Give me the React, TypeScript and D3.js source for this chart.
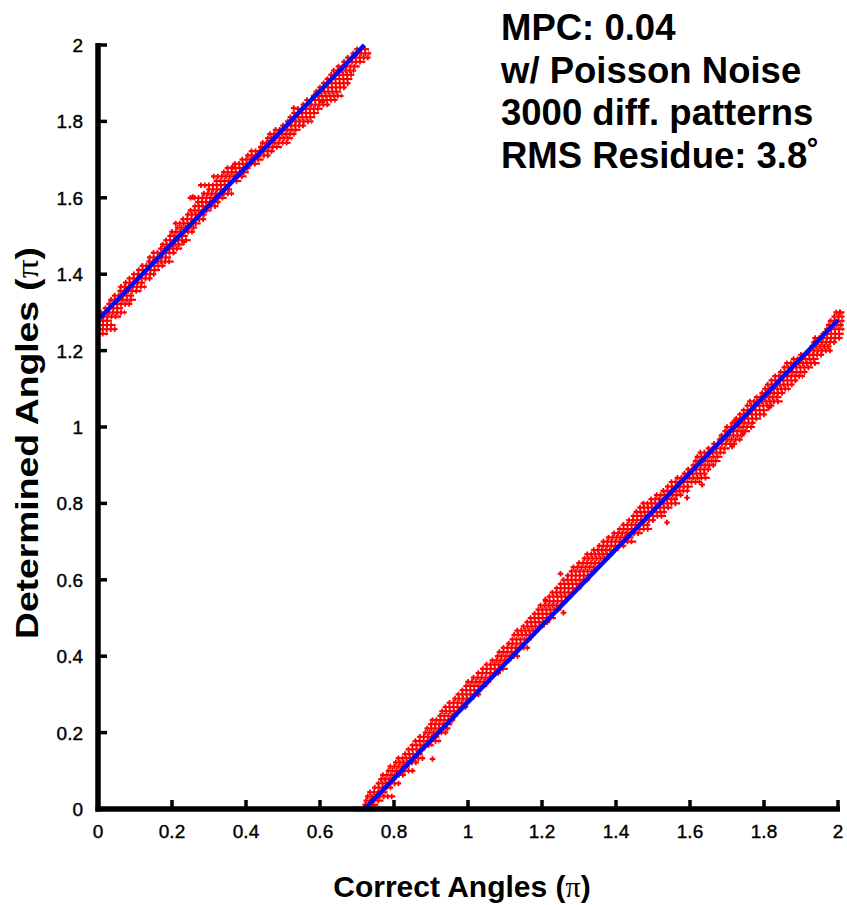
import * as d3 from 'd3';
import React, { useEffect, useRef } from 'react';

// rows of red markers: [determined angle, correct angle from, correct angle to] (units of pi)
const upperRows: [number, number, number][] = [
  [1.244, 0.002, 0.020], [1.256, 0.002, 0.045], [1.267, 0.003, 0.040], [1.278, 0.003, 0.030],
  [1.289, 0.004, 0.055], [1.300, 0.008, 0.070], [1.311, 0.020, 0.060], [1.322, 0.030, 0.085],
  [1.333, 0.035, 0.095], [1.344, 0.045, 0.090], [1.356, 0.060, 0.110], [1.367, 0.062, 0.124],
  [1.378, 0.075, 0.120], [1.389, 0.085, 0.140], [1.400, 0.097, 0.150], [1.411, 0.110, 0.160],
  [1.422, 0.120, 0.175], [1.433, 0.138, 0.197], [1.444, 0.140, 0.190], [1.456, 0.150, 0.205],
  [1.467, 0.170, 0.220], [1.478, 0.175, 0.225], [1.489, 0.184, 0.243], [1.500, 0.195, 0.235],
  [1.511, 0.200, 0.255], [1.522, 0.215, 0.260], [1.533, 0.210, 0.270], [1.544, 0.230, 0.285],
  [1.556, 0.243, 0.286], [1.567, 0.250, 0.300], [1.578, 0.262, 0.318], [1.589, 0.270, 0.324],
  [1.600, 0.250, 0.340], [1.611, 0.286, 0.360], [1.622, 0.300, 0.355], [1.633, 0.278, 0.350],
  [1.644, 0.320, 0.380], [1.656, 0.313, 0.394], [1.667, 0.340, 0.400], [1.678, 0.350, 0.405],
  [1.689, 0.370, 0.430], [1.700, 0.390, 0.440], [1.711, 0.405, 0.459], [1.722, 0.415, 0.470],
  [1.733, 0.440, 0.490], [1.744, 0.445, 0.513], [1.756, 0.459, 0.520], [1.767, 0.465, 0.529],
  [1.778, 0.480, 0.540], [1.789, 0.500, 0.555], [1.800, 0.513, 0.575], [1.811, 0.520, 0.580],
  [1.822, 0.530, 0.590], [1.833, 0.540, 0.600], [1.844, 0.555, 0.620], [1.856, 0.565, 0.640],
  [1.867, 0.583, 0.656], [1.878, 0.590, 0.650], [1.889, 0.600, 0.665], [1.900, 0.610, 0.675],
  [1.911, 0.620, 0.680], [1.922, 0.630, 0.685], [1.933, 0.637, 0.690], [1.944, 0.650, 0.700],
  [1.956, 0.665, 0.715], [1.967, 0.675, 0.729], [1.978, 0.690, 0.731], [1.989, 0.700, 0.725],
];

const lowerRows: [number, number, number][] = [
  [0.000, 0.696, 0.760], [0.011, 0.722, 0.750], [0.022, 0.725, 0.764], [0.033, 0.729, 0.796],
  [0.044, 0.735, 0.775], [0.056, 0.748, 0.790], [0.067, 0.758, 0.812], [0.078, 0.765, 0.800],
  [0.089, 0.770, 0.825], [0.100, 0.785, 0.850], [0.111, 0.790, 0.835], [0.122, 0.805, 0.860],
  [0.133, 0.812, 0.877], [0.144, 0.830, 0.870], [0.156, 0.839, 0.877], [0.167, 0.850, 0.900],
  [0.178, 0.858, 0.920], [0.189, 0.870, 0.915], [0.200, 0.885, 0.939], [0.211, 0.890, 0.945],
  [0.222, 0.900, 0.950], [0.233, 0.904, 0.958], [0.244, 0.925, 0.965], [0.256, 0.930, 0.975],
  [0.267, 0.939, 0.993], [0.278, 0.950, 0.995], [0.289, 0.965, 1.010], [0.300, 0.974, 1.028],
  [0.311, 0.985, 1.030], [0.322, 0.995, 1.045], [0.333, 1.000, 1.055], [0.344, 1.015, 1.060],
  [0.356, 1.028, 1.082], [0.367, 1.040, 1.100], [0.378, 1.050, 1.095], [0.389, 1.066, 1.110],
  [0.400, 1.080, 1.133], [0.411, 1.085, 1.125], [0.422, 1.096, 1.160], [0.433, 1.110, 1.150],
  [0.444, 1.120, 1.165], [0.456, 1.125, 1.175], [0.467, 1.133, 1.182], [0.478, 1.150, 1.200],
  [0.489, 1.160, 1.215], [0.500, 1.169, 1.230], [0.511, 1.180, 1.225], [0.522, 1.190, 1.245],
  [0.533, 1.196, 1.250], [0.544, 1.210, 1.262], [0.556, 1.220, 1.275], [0.567, 1.228, 1.285],
  [0.578, 1.240, 1.300], [0.589, 1.250, 1.305], [0.600, 1.258, 1.322], [0.611, 1.270, 1.325],
  [0.622, 1.280, 1.340], [0.633, 1.285, 1.350], [0.644, 1.300, 1.360], [0.656, 1.315, 1.375],
  [0.667, 1.322, 1.385], [0.678, 1.340, 1.400], [0.689, 1.355, 1.420], [0.700, 1.366, 1.447],
  [0.711, 1.380, 1.440], [0.722, 1.395, 1.465], [0.733, 1.410, 1.490], [0.744, 1.420, 1.485],
  [0.756, 1.435, 1.500], [0.767, 1.447, 1.528], [0.778, 1.455, 1.530], [0.789, 1.465, 1.545],
  [0.800, 1.474, 1.566], [0.811, 1.495, 1.560], [0.822, 1.510, 1.575], [0.833, 1.528, 1.592],
  [0.844, 1.540, 1.600], [0.856, 1.550, 1.625], [0.867, 1.566, 1.646], [0.878, 1.585, 1.640],
  [0.889, 1.595, 1.650], [0.900, 1.609, 1.663], [0.911, 1.615, 1.675], [0.922, 1.620, 1.680],
  [0.933, 1.628, 1.690], [0.944, 1.650, 1.700], [0.956, 1.665, 1.720], [0.967, 1.680, 1.735],
  [0.978, 1.685, 1.740], [0.989, 1.695, 1.755], [1.000, 1.700, 1.768], [1.011, 1.715, 1.770],
  [1.022, 1.725, 1.785], [1.033, 1.735, 1.800], [1.044, 1.745, 1.805], [1.056, 1.755, 1.820],
  [1.067, 1.762, 1.843], [1.078, 1.780, 1.840], [1.089, 1.795, 1.850], [1.100, 1.803, 1.865],
  [1.111, 1.810, 1.875], [1.122, 1.820, 1.885], [1.133, 1.830, 1.903], [1.144, 1.845, 1.910],
  [1.156, 1.855, 1.925], [1.167, 1.862, 1.943], [1.178, 1.880, 1.940], [1.189, 1.900, 1.955],
  [1.200, 1.924, 1.978], [1.211, 1.930, 1.975], [1.222, 1.935, 1.990], [1.233, 1.938, 2.005],
  [1.244, 1.960, 2.008], [1.256, 1.970, 2.010], [1.267, 1.975, 2.008], [1.278, 1.980, 2.010],
  [1.289, 1.990, 2.010], [1.300, 1.995, 2.010],
];

// isolated markers [correct, determined]
const strayPoints: [number, number][] = [
  [0.529, 1.835], [0.607, 1.851], [0.364, 1.680], [0.256, 1.602], [0.232, 1.484],
  [0.904, 0.131], [1.250, 0.616], [1.258, 0.514], [1.209, 0.548], [1.538, 0.750],
  [1.592, 0.815], [1.633, 0.849], [1.714, 0.949], [1.722, 1.017], [1.744, 0.983],
  [1.814, 1.051], [2.005, 1.300],
];

// fitted (ideal) line, two wrapped pieces
const fitPieces: [number, number][][] = [
  [[0, 1.28], [0.72, 2]],
  [[0.72, 0], [2, 1.28]],
];

const xTicks = [0, 0.2, 0.4, 0.6, 0.8, 1, 1.2, 1.4, 1.6, 1.8, 2];
const yTicks = [0, 0.2, 0.4, 0.6, 0.8, 1, 1.2, 1.4, 1.6, 1.8, 2];
const noteLines = ['MPC: 0.04', 'w/ Poisson Noise', '3000 diff. patterns', 'RMS Residue: 3.8\u02da'];

const App = () => {
  const svgRef = useRef<SVGSVGElement>(null);

  useEffect(() => {
    const svg = d3.select(svgRef.current);
    svg.selectAll('*').remove();

    const width = 847;
    const height = 905;
    const x = d3.scaleLinear().domain([0, 2]).range([98, 838]);
    const y = d3.scaleLinear().domain([0, 2]).range([809, 45]);
    const font = "'Liberation Sans', Arial, Helvetica, sans-serif";

    svg.attr('width', width).attr('height', height);
    svg.append('rect').attr('width', width).attr('height', height).attr('fill', 'white');

    // red marker rows: a bar for the horizontal arms, dashes for the vertical arms
    const rows = upperRows.concat(lowerRows);
    const red = svg.append('g');
    red.selectAll('line.h')
      .data(rows)
      .join('line')
      .attr('class', 'h')
      .attr('x1', d => x(d[1]) - 2.8)
      .attr('x2', d => x(d[2]) + 2.8)
      .attr('y1', d => y(d[0]))
      .attr('y2', d => y(d[0]))
      .attr('stroke', '#ff0000')
      .attr('stroke-width', 2.2);
    red.selectAll('line.v')
      .data(rows)
      .join('line')
      .attr('class', 'v')
      .attr('x1', d => x(d[1]) - 0.9)
      .attr('x2', d => x(d[2]) + 0.9)
      .attr('y1', d => y(d[0]))
      .attr('y2', d => y(d[0]))
      .attr('stroke', '#ff0000')
      .attr('stroke-width', 5.5)
      .attr('stroke-dasharray', '1.8,2.2');

    red.selectAll('path.p')
      .data(strayPoints)
      .join('path')
      .attr('class', 'p')
      .attr('transform', d => `translate(${x(d[0])},${y(d[1])})`)
      .attr('d', 'M-2.8,0H2.8M0,-2.8V2.8')
      .attr('stroke', '#ff0000')
      .attr('stroke-width', 2);

    const line = d3.line<[number, number]>().x(d => x(d[0])).y(d => y(d[1]));
    svg.append('g')
      .selectAll('path')
      .data(fitPieces)
      .join('path')
      .attr('d', d => line(d))
      .attr('fill', 'none')
      .attr('stroke', '#0a0af2')
      .attr('stroke-width', 4.5);

    // axes (drawn from the scales, ticks pointing inward)
    const axes = svg.append('g');
    axes.append('line')
      .attr('x1', x(0) - 2.5).attr('x2', x(2) + 2)
      .attr('y1', y(0)).attr('y2', y(0))
      .attr('stroke', '#000').attr('stroke-width', 5.5);
    axes.append('line')
      .attr('x1', x(0)).attr('x2', x(0))
      .attr('y1', y(0) + 2.5).attr('y2', y(2) - 2)
      .attr('stroke', '#000').attr('stroke-width', 5.5);

    axes.selectAll('line.xt')
      .data(xTicks)
      .join('line')
      .attr('class', 'xt')
      .attr('x1', d => x(d)).attr('x2', d => x(d))
      .attr('y1', y(0)).attr('y2', y(0) - 9)
      .attr('stroke', '#000').attr('stroke-width', 3.5);
    axes.selectAll('line.yt')
      .data(yTicks)
      .join('line')
      .attr('class', 'yt')
      .attr('x1', x(0)).attr('x2', x(0) + 9)
      .attr('y1', d => y(d)).attr('y2', d => y(d))
      .attr('stroke', '#000').attr('stroke-width', 3.5);

    axes.selectAll('text.xl')
      .data(xTicks)
      .join('text')
      .attr('class', 'xl')
      .attr('x', d => x(d))
      .attr('y', y(0) + 29)
      .attr('text-anchor', 'middle')
      .attr('stroke', '#000')
      .attr('stroke-width', 0.4)
      .style('font-family', font)
      .style('font-size', '19px')
      .text(d => String(d));
    axes.selectAll('text.yl')
      .data(yTicks)
      .join('text')
      .attr('class', 'yl')
      .attr('x', x(0) - 15)
      .attr('y', d => y(d) + 7)
      .attr('text-anchor', 'end')
      .attr('stroke', '#000')
      .attr('stroke-width', 0.4)
      .style('font-family', font)
      .style('font-size', '19px')
      .text(d => String(d));

    // axis titles
    const xt = svg.append('text')
      .attr('x', 462)
      .attr('y', 897)
      .attr('text-anchor', 'middle')
      .style('font-family', font)
      .style('font-weight', 'bold')
      .style('font-size', '30px')
      .text('Correct Angles (');
    xt.append('tspan').style('font-family', "'Liberation Serif', serif").style('font-weight', 'normal').text('\u03c0');
    xt.append('tspan').text(')');

    const yt = svg.append('text')
      .attr('transform', `translate(38,443) rotate(-90)`)
      .attr('text-anchor', 'middle')
      .attr('textLength', 392)
      .attr('lengthAdjust', 'spacingAndGlyphs')
      .style('font-family', font)
      .style('font-weight', 'bold')
      .style('font-size', '31px')
      .text('Determined Angles (');
    yt.append('tspan').style('font-family', "'Liberation Serif', serif").style('font-weight', 'normal').text('\u03c0');
    yt.append('tspan').text(')');

    // annotation block
    svg.append('g')
      .selectAll('text')
      .data(noteLines)
      .join('text')
      .attr('x', 501)
      .attr('y', (d, i) => 40 + i * 42.5)
      .style('font-family', font)
      .style('font-weight', 'bold')
      .style('font-size', '36.5px')
      .attr('fill', '#000')
      .text(d => d);
  }, []);

  return (
    <svg ref={svgRef} style={{ position: 'absolute', left: 0, top: 0, display: 'block' }}></svg>
  );
};

export default App;
